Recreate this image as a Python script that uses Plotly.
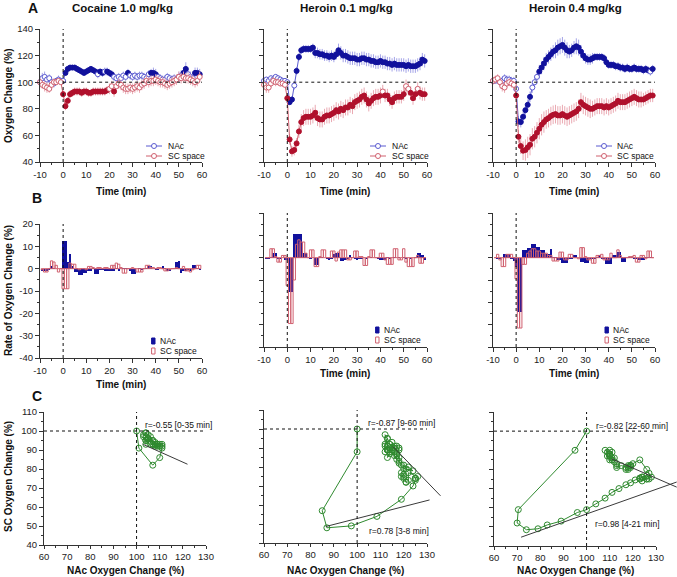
import plotly.graph_objects as go

W, H = 677, 577
FONT = "Liberation Sans"

# ---------------- data ----------------
minutes = list(range(-10, 60))          # sampling minutes, panel A
bar_minutes = list(range(-9, 60))       # rate bins, panel B

panel_titles = ["Cocaine 1.0 mg/kg", "Heroin 0.1 mg/kg", "Heroin 0.4 mg/kg"]
time_ticks = [-10, 0, 10, 20, 30, 40, 50, 60]
time_tick_labels = ["-10", "0", "10", "20", "30", "40", "50", "60"]
rate_ticks = [-40, -30, -20, -10, 0, 10, 20]
rate_tick_labels = ["-40", "-30", "-20", "-10", "0", "10", "20"]

coc_nac = [100, 103, 104, 102, 103, 100, 99, 101, 102, 101,
           101, 107, 110, 111, 111, 111, 110, 109, 108, 107,
           108, 109, 110, 109, 108, 106, 108, 107, 108, 108,
           107, 106, 104, 103, 104, 103, 105, 104, 107, 105,
           104, 105, 104, 105, 105, 104, 103, 106, 107, 107,
           106, 104, 103, 102, 102, 104, 103, 102, 103, 102,
           104, 105, 107, 110, 106, 104, 103, 107, 107, 106]
coc_sc = [100, 98, 97, 96, 95, 98, 100, 100, 101, 100,
          91, 82, 86, 91, 92, 93, 93, 93, 92, 93,
          93, 92, 92, 93, 93, 93, 93, 93, 93, 94,
          95, 97, 93, 97, 99, 98, 96, 95, 95, 96,
          95, 96, 97, 96, 98, 99, 101, 100, 101, 101,
          102, 101, 100, 100, 99, 98, 99, 100, 101, 102,
          104, 103, 104, 103, 103, 102, 101, 100, 101, 104]
h01_nac = [101, 102, 101, 103, 102, 104, 103, 102, 101, 101,
           100, 85, 87, 97.5, 108.5, 119, 124, 125, 125, 125,
           125, 126, 122, 122, 121, 121, 120, 120, 119, 120,
           119, 121, 124, 122, 120, 120, 119, 118, 118, 118,
           117, 117, 118, 118, 117, 117, 116, 116, 115, 115,
           116, 115, 115, 114, 114, 113, 114, 113, 113, 113,
           113, 112, 113, 112, 112, 112, 113, 114, 117, 116]
h01_sc = [98, 96, 96, 99, 101, 100, 100, 99, 99, 98,
          88, 57, 48, 49, 54, 63, 70, 73, 74, 74,
          74, 75, 77, 73, 72, 72, 74, 75, 75, 76,
          77, 79, 78, 80, 79, 81, 81, 83, 82, 85,
          86, 87, 89, 90, 87, 84, 86, 88, 89, 89,
          90, 93, 90, 90, 87, 85, 88, 89, 89, 89,
          91, 97, 95, 92, 88, 91, 95, 92, 91, 91]
h04_nac = [101, 101, 102, 100, 101, 103, 102, 102, 101, 101,
           95, 70.5, 70, 74, 79, 83, 89, 96, 100, 104,
           108, 111, 114, 117, 119, 121, 123, 124, 126, 127,
           128, 126, 124, 123, 124, 126, 127, 126, 123, 120,
           118, 117, 117, 118, 119, 119, 119, 119, 118, 115,
           113, 113, 113, 112, 112, 111, 111, 110, 111, 110,
           110, 111, 110, 110, 110, 109, 110, 109, 108, 110]
h04_sc = [101, 102, 103, 100, 97, 96, 99, 100, 99, 98,
          90, 59, 52, 48.5, 49, 51, 53, 57.5, 59, 62,
          65, 68, 70, 72, 73, 74.5, 75.5, 76, 75, 75,
          76, 75, 74, 75, 76, 77, 78, 80, 85, 83,
          82, 81, 80, 80, 81, 82, 82, 82, 81, 82,
          81, 82, 83, 84, 86, 85, 85, 85, 86, 87,
          88, 89, 88, 87, 87, 87, 88, 89, 90, 90]

# SEM
coc_nac_err = [3, 4, 4, 3, 3, 3, 3, 2, 3, 2,
               2, 2, 2, 2, 2, 2, 2, 2, 2, 2, 2, 2, 2, 2, 2, 3, 2, 3, 3, 3,
               3, 3, 3, 3, 3, 3, 3, 3, 3, 3, 3, 3, 3, 3, 3, 3, 3, 3, 3, 4,
               4, 3, 3, 3, 3, 3, 3, 3, 3, 3, 4, 4, 4, 5, 4, 4, 4, 4, 4, 4]
coc_sc_err = [3, 3, 4, 4, 3, 3, 3, 2, 2, 2,
              3, 3, 3, 3, 3, 3, 3, 3, 3, 3, 3, 3, 3, 3, 3, 3, 3, 3, 3, 3,
              4, 4, 4, 4, 4, 4, 4, 4, 4, 4, 4, 4, 4, 4, 4, 4, 4, 4, 4, 4,
              4, 4, 4, 4, 4, 4, 4, 4, 4, 4, 4, 4, 4, 4, 4, 4, 4, 4, 4, 4]
h01_nac_err = [2, 2, 2, 2, 2, 2, 2, 2, 2, 2,
               2, 2, 2, 3, 3, 3, 3, 3, 3, 3, 3, 3, 4, 4, 4, 4, 4, 4, 4, 4,
               4, 4, 5, 5, 5, 5, 5, 5, 5, 5, 5, 5, 5, 5, 5, 5, 5, 5, 5, 5,
               5, 5, 5, 5, 5, 5, 5, 5, 5, 5, 5, 5, 5, 5, 5, 5, 5, 5, 5, 5]
h01_sc_err = [3, 4, 4, 3, 3, 3, 2, 2, 2, 2,
              3, 4, 4, 4, 4, 5, 6, 6, 6, 6, 6, 6, 6, 6, 6, 6, 6, 6, 6, 6,
              6, 6, 6, 6, 6, 6, 6, 6, 6, 6, 6, 6, 6, 6, 6, 6, 6, 6, 6, 6,
              6, 5, 5, 5, 5, 5, 5, 5, 5, 5, 5, 5, 5, 5, 5, 5, 5, 5, 5, 5]
h04_nac_err = [2, 2, 3, 3, 3, 3, 3, 3, 3, 3,
               3, 4, 4, 4, 4, 4, 4, 4, 4, 4, 5, 5, 5, 5, 5, 5, 5, 6, 6, 6,
               6, 6, 6, 5, 5, 5, 6, 6, 5, 4, 4, 4, 4, 4, 3, 3, 3, 3, 3, 3,
               3, 3, 3, 3, 3, 3, 3, 3, 3, 3, 3, 3, 3, 3, 3, 3, 3, 3, 3, 3]
h04_sc_err = [3, 3, 3, 3, 4, 4, 3, 3, 3, 3,
              3, 5, 6, 7, 8, 8, 8, 8, 8, 8, 8, 8, 8, 7, 7, 7, 7, 7, 7, 7,
              7, 7, 7, 7, 7, 7, 7, 7, 7, 7, 7, 7, 7, 6, 6, 6, 6, 6, 6, 6,
              6, 6, 6, 6, 6, 6, 6, 6, 6, 6, 6, 6, 6, 6, 6, 5, 5, 5, 5, 5]

# significance vs baseline (1 = filled symbol)
coc_nac_sig = "00000000000" "11111111111111" "0" "11" "0" "111" "000000" "1" "000000000" "111" "00000000000" "11" "000" "111"
coc_sc_sig = "0000000000" "11111111111111111111" "00" "1" "0000000000000000000000000000000000000"
h01_nac_sig = "00000000000" "11" "0" "11111111111111111111111111111111111111111111111111111111"
h01_sc_sig = "0000000000" "11111111111111111111111111111111111111111" "0" "111111111" "00" "111" "0" "111"
h04_nac_sig = "00000000000" "111111" "000" "111111111111111111111111111111111111111111111111" "0" "1"
h04_sc_sig = "0000000000" "111111111111111111111111111111111111111111111111111111111111"

# rate of oxygen change (% per bin)
coc_nac_rate = [-1, -1, -1, -0.5, 1, 0.5, 0, 0, 0,
                12.5, 12.5, 3, 6.5, 1, -1.5, -1.5, -3, -3, -2,
                -2, -1, -1, 0.5, -2.5, -2.5, -0.5, -0.5, -1, -1,
                -1, -1, -1, 0.5, -1, 0, 0.5, 0.5, 0.5, -1,
                -2.5, -2.5, 0, 0.5, -0.5, 0, 0.5, 1, 1, 0,
                -0.5, -0.5, 0, 1, 0.5, -1, -1, 0, 0.5, 3,
                3.5, -2, -1, -1, -0.5, -1, 1.5, 1.5, 0.5, -0.5]
coc_sc_rate = [-0.5, -1.5, -1.5, 0, 3.5, 3, 1.5, -1.5, 0,
               -9, -9, -9, 2.5, 2, 2, 0, -0.5, 0, 0,
               -0.5, 1, 1, 0.5, 0, 0.5, 0.5, 0, 0.5, 0.5,
               0, 1.5, 1.5, 2.5, 2, 0.5, -2, -2, 0, 0,
               0.5, 0, -1.5, -1.5, -1.5, 0, 1.5, 1.5, 0.5, 0.5,
               0, 0.5, 0.5, 0, -1, -1, -0.5, 0, 0, 0.5,
               0, 0, 1, -1, -1, -1.5, -0.5, 0, 1.5, 1.5]
h01_nac_rate = [-0.5, -0.5, 0.5, 2, 2, -0.5, -0.5, 0, -1,
                -1, -15.5, -15.5, 10.6, 10.6, 10.6, 10.6, 2, 2, 0,
                -0.5, 0, -3.5, -3.5, 0.5, 0.5, 0, -0.5, -1, -0.5,
                1.5, 2, 2, -1.5, -1.5, -1, -0.5, 1, 0.5, -0.5,
                -1, -0.5, -0.5, 0, -0.5, 0, 0.5, 0, 0, -0.5,
                -1, -1, -1, 0.5, -0.5, 0, 0.5, 0, 0.5, 0,
                0.5, -0.5, 0, -0.5, 0, 0.5, 2, 2, 1, -1]
h01_sc_rate = [0, 0, 4, 4, 0.5, -2, -2, 1, 1,
               -12.5, -29.5, -29.5, -10, 6, 8, 7, 7, 2, 0,
               3.5, 3.5, -4, -4, 0.5, 3.5, 3.5, 0, 0, 3,
               3, -1.5, 2.5, 3.5, 3.5, 3.5, -1, -1, 0, 3,
               3, 0.5, 0.5, -3.5, -3.5, 0.5, 3.5, 3.5, 0, 0,
               2, 2, -1, -3, -3, -3, 4, 4, -1, -1,
               4, -2, -4, -4, -4, 0, 1, -2.5, -2.5, 0]
h04_nac_rate = [0, -0.5, -0.5, 0, 1.5, 1.5, 1.5, -0.5, -1.5,
                -4, -24.5, -24.5, 3.5, 3.5, 4.5, 4.5, 6, 6, 5,
                5, 3.5, 3.5, 1.5, 1.5, 4, 0.5, 0.5, -1, -1,
                -2.5, -2.5, -2.5, -0.5, -0.5, 1, 1, 0, -2, -2,
                -2.5, -2.5, -0.5, -0.5, -0.5, 0.5, 1, -0.5, -0.5, -3,
                -3, -3, 1, 1, 2.5, 2.5, -2, -2, 0, 0.5,
                0.5, -0.5, -0.5, -1, -1, -1, 0.5, 0.5, 0.5, 0]
h04_sc_rate = [0, 1.5, -1, -4, -4, 1.5, 1.5, 1.5, 0,
               -9.5, -31.5, -31.5, -3, -3, 2, 3, 4, 4, 3,
               3, 2, 2, 2, 1, 1, -1.5, -1.5, -1.5, 2.5,
               2.5, -1, -1, 1.5, 1.5, 0, 0, -0.5, 4.5, 4.5,
               0.5, -1, -1, -2.5, -2.5, 1, 1, 1.5, -1, -1,
               -1, 2, 0, 0, 3.5, 1, 0, 0, 0, 0.5,
               0.5, 1, -2, -2, 1, 1, -0.5, 3, 3, 0]

# panel C: trajectory window (last minute) and regression read-outs
baseline = 100
traj_last_minute = [35, 59, 59]
fit_labels = [["r=-0.55 [0-35 min]"],
              ["r=-0.87 [9-60 min]", "r=0.78 [3-8 min]"],
              ["r=-0.82 [22-60 min]", "r=0.98 [4-21 min]"]]
fit_slope = [[-0.545], [-1.27, 0.314], [-0.525, 0.4286]]
fit_intercept = [[149.0], [237.3, 21.5], [143.7, 13.87]]
fit_x_from = [[102.9], [115.4, 86.5], [110.9, 71.7]]
fit_x_to = [[122.0], [135.8, 131.1], [139.0, 139.0]]

# ---------------- styling ----------------
NAC = "#11119c"
NAC_OPEN = "#5b5bd0"
NAC_LINE = "#5b5bd0"
NAC_ERR = "#a5a5e8"
SC = "#b0102c"
SC_OPEN = "#d0606f"
SC_LINE = "#d0606f"
SC_ERR = "#eaaab3"
GREEN = "#2f8a2f"
AX = "#333333"


def fx(p):
    return p / W


def fy(p):
    return 1 - p / H


colA_x = [(40, 202), (264, 427), (493, 655)]
rowA_y = [(29, 162), (29, 162), (29, 162)]
rowB_y = [(224, 358), (213, 347), (213, 347)]
colC_x = [(44, 206), (264, 427), (494, 656)]
rowC_y = [(412, 545), (410, 543), (412, 546)]


def axis(domain_px, horizontal, rng, dtick, minor, labels, anchor, ticklen=4,
         tickvals=None, ticktext=None):
    if horizontal:
        dom = [fx(domain_px[0]), fx(domain_px[1])]
    else:
        dom = [fy(domain_px[1]), fy(domain_px[0])]
    d = dict(domain=dom, range=rng, dtick=dtick, tick0=rng[0], showline=True,
             linecolor=AX, linewidth=1, ticks="outside", ticklen=ticklen, tickwidth=1,
             tickcolor=AX, showgrid=False, zeroline=False, showticklabels=labels,
             tickfont=dict(size=9.5, color="#222", family=FONT), anchor=anchor,
             fixedrange=True, layer="above traces", automargin=False,
             minor=dict(dtick=minor, tick0=rng[0], ticks="outside", ticklen=2,
                        tickcolor=AX, showgrid=False))
    if tickvals is not None:
        d.update(tickmode="array", tickvals=tickvals, ticktext=ticktext)
    return d


fig = go.Figure()
layout_axes = {}
shapes = []
annotations = []


def ax_names(i):
    s = "" if i == 1 else str(i)
    return "x" + s, "y" + s, "xaxis" + s, "yaxis" + s


def ann(text, x, y, size, bold=False, xanchor="center", yanchor="middle", angle=0):
    annotations.append(dict(text=text, x=fx(x), y=fy(y), xref="paper", yref="paper",
                            showarrow=False, xanchor=xanchor, yanchor=yanchor,
                            textangle=angle,
                            font=dict(size=size, family=FONT, color="#111",
                                      weight="bold" if bold else "normal")))


# ---------- Row A ----------
seriesA = [(coc_nac, coc_sc, coc_nac_err, coc_sc_err, coc_nac_sig, coc_sc_sig),
           (h01_nac, h01_sc, h01_nac_err, h01_sc_err, h01_nac_sig, h01_sc_sig),
           (h04_nac, h04_sc, h04_nac_err, h04_sc_err, h04_nac_sig, h04_sc_sig)]
for k, (nac, sc, ne, se, nsig, ssig) in enumerate(seriesA):
    xa, ya, xk, yk = ax_names(k + 1)
    layout_axes[xk] = axis(colA_x[k], True, [-10, 60], 10, 5, True, ya,
                           tickvals=time_ticks, ticktext=time_tick_labels)
    layout_axes[yk] = axis(rowA_y[k], False, [40, 140], 20, 10, k == 0, xa)
    for vals, err, sig, col, opn, lc, ec in [(nac, ne, nsig, NAC, NAC_OPEN, NAC_LINE, NAC_ERR),
                                            (sc, se, ssig, SC, SC_OPEN, SC_LINE, SC_ERR)]:
        fig.add_trace(go.Scatter(
            x=minutes, y=vals, mode="lines+markers", xaxis=xa, yaxis=ya,
            line=dict(color=lc, width=1), cliponaxis=False, showlegend=False,
            marker=dict(symbol="circle", size=5,
                        color=[col if c == "1" else "white" for c in sig],
                        line=dict(width=1, color=[col if c == "1" else opn for c in sig])),
            error_y=dict(type="data", array=err, color=ec, thickness=1, width=0)))
    shapes.append(dict(type="line", xref=xa, yref=ya + " domain", x0=0, x1=0, y0=0, y1=1,
                       line=dict(color="#111", width=1, dash="dot")))
    shapes.append(dict(type="line", xref=xa, yref=ya, x0=0, x1=60, y0=100, y1=100,
                       line=dict(color="#111", width=1, dash="dot")))
    cx = (colA_x[k][0] + colA_x[k][1]) / 2
    ann(panel_titles[k], cx + 1, 8, 11.5, bold=True)
    ann("Time (min)", cx, 191, 10, bold=True)

# ---------- Row B ----------
seriesB = [(coc_nac_rate, coc_sc_rate), (h01_nac_rate, h01_sc_rate), (h04_nac_rate, h04_sc_rate)]
for k, (nr, sr) in enumerate(seriesB):
    xa, ya, xk, yk = ax_names(k + 4)
    layout_axes[xk] = axis(colA_x[k], True, [-10, 60], 10, 5, True, ya,
                           tickvals=time_ticks, ticktext=time_tick_labels)
    layout_axes[yk] = axis(rowB_y[k], False, [-40, 20], 10, 5, k == 0, xa,
                           tickvals=rate_ticks, ticktext=rate_tick_labels)
    fig.add_trace(go.Bar(x=bar_minutes, y=nr, width=1, xaxis=xa, yaxis=ya, showlegend=False,
                         marker=dict(color=NAC, line=dict(width=0))))
    fig.add_trace(go.Bar(x=bar_minutes, y=sr, width=1, xaxis=xa, yaxis=ya, showlegend=False,
                         marker=dict(color="rgba(255,255,255,0)", line=dict(width=1, color=SC_OPEN))))
    shapes.append(dict(type="line", xref=xa, yref=ya + " domain", x0=0, x1=0, y0=0, y1=1,
                       line=dict(color="#111", width=1, dash="dot")))
    cx = (colA_x[k][0] + colA_x[k][1]) / 2
    ann("Time (min)", cx, rowB_y[k][1] + 26, 10, bold=True)

# ---------- Row C ----------
nacs = [coc_nac, h01_nac, h04_nac]
scs = [coc_sc, h01_sc, h04_sc]
fit_axis_max = [140, 140, 139]
for k in range(3):
    xa, ya, xk, yk = ax_names(k + 7)
    layout_axes[xk] = axis(colC_x[k], True, [60, 130], 10, 5, True, ya, ticklen=3)
    layout_axes[yk] = axis(rowC_y[k], False, [40, 110], 10, 5, k == 0, xa)
    sel = [i for i, t in enumerate(minutes) if 0 <= t <= traj_last_minute[k]]
    tx = [baseline] + [nacs[k][i] for i in sel]
    ty = [baseline] + [scs[k][i] for i in sel]
    shapes.append(dict(type="line", xref=xa, yref=ya + " domain", x0=100, x1=100, y0=0, y1=1,
                       line=dict(color="#111", width=1, dash="dot")))
    shapes.append(dict(type="line", xref=xa + " domain", yref=ya, x0=0, x1=1, y0=100, y1=100,
                       line=dict(color="#111", width=1, dash="dot")))
    fig.add_trace(go.Scatter(x=tx, y=ty, mode="lines+markers", xaxis=xa, yaxis=ya,
                             showlegend=False, cliponaxis=False,
                             line=dict(color=GREEN, width=1),
                             marker=dict(symbol="circle-open", size=6, color=GREEN,
                                         line=dict(width=1))))
    # invisible companion axes (same scale) so regression lines may run past 130
    fa, fb, fk, fl = ax_names(k + 10)
    scale = (colC_x[k][1] - colC_x[k][0]) / 70.0
    right_px = colC_x[k][0] + (fit_axis_max[k] - 60) * scale
    layout_axes[fk] = dict(domain=[fx(colC_x[k][0]), min(fx(right_px), 1.0)],
                           range=[60, fit_axis_max[k]], visible=False, anchor=fb, fixedrange=True)
    layout_axes[fl] = dict(domain=[fy(rowC_y[k][1]), fy(rowC_y[k][0])], range=[40, 110],
                           visible=False, anchor=fa, fixedrange=True)
    for j in range(len(fit_slope[k])):
        xs = [fit_x_from[k][j], fit_x_to[k][j]]
        ys = [fit_slope[k][j] * v + fit_intercept[k][j] for v in xs]
        fig.add_trace(go.Scatter(x=xs, y=ys, mode="lines", xaxis=fa, yaxis=fb,
                                 showlegend=False, line=dict(color="#3a3a3a", width=1)))
    cx = (colC_x[k][0] + colC_x[k][1]) / 2
    ann("NAc Oxygen Change (%)", cx, 570.5, 10, bold=True)

# regression labels
r_pos = [[(143, 425)], [(366, 423), (367, 531)], [(594, 426), (593, 524)]]
for k in range(3):
    for j, lab in enumerate(fit_labels[k]):
        ann(lab, r_pos[k][j][0], r_pos[k][j][1], 8.5, xanchor="left")

# y titles and panel letters
ann("Oxygen Change (%)", 8, 96, 10, bold=True, angle=-90)
ann("Rate of Oxygen Change (%)", 8, 291, 10, bold=True, angle=-90)
ann("SC Oxygen Change (%)", 8, 477, 10, bold=True, angle=-90)
ann("A", 33, 8, 14, bold=True)
ann("B", 37, 198, 14, bold=True)
ann("C", 37, 396, 14, bold=True)

# ---------- hand-drawn compact legends ----------
legA = [(146, 162, 166), (370, 386, 390), (596, 612, 615)]
for (x0, x1, tx) in legA:
    for (yy, col, lc, name) in [(146, NAC_OPEN, NAC_LINE, "NAc"), (156, SC_OPEN, SC_LINE, "SC space")]:
        shapes.append(dict(type="line", xref="paper", yref="paper", x0=fx(x0), x1=fx(x1),
                           y0=fy(yy), y1=fy(yy), line=dict(color=lc, width=1)))
        c = (x0 + x1) / 2
        shapes.append(dict(type="circle", xref="paper", yref="paper", x0=fx(c - 2.5), x1=fx(c + 2.5),
                           y0=fy(yy + 2.5), y1=fy(yy - 2.5), fillcolor="white",
                           line=dict(color=col, width=1)))
        ann(name, tx, yy, 8.5, xanchor="left")

legB = [(153.3, 158, 341), (377.3, 382, 330), (606.7, 611, 330)]
for (cxp, tx, y0) in legB:
    for (yy, fill, lc, name) in [(y0, NAC, NAC, "NAc"), (y0 + 10, "rgba(255,255,255,0)", SC_OPEN, "SC space")]:
        shapes.append(dict(type="rect", xref="paper", yref="paper", x0=fx(cxp - 1.7), x1=fx(cxp + 1.7),
                           y0=fy(yy + 3), y1=fy(yy - 3), fillcolor=fill,
                           line=dict(color=lc, width=1)))
        ann(name, tx, yy, 8.5, xanchor="left")

fig.update_layout(width=W, height=H, margin=dict(l=0, r=0, t=0, b=0, pad=0),
                  paper_bgcolor="white", plot_bgcolor="rgba(0,0,0,0)", barmode="overlay",
                  bargap=0, shapes=shapes, annotations=annotations, hovermode=False,
                  font=dict(family=FONT, color="#222"), **layout_axes)
fig.write_html("out.html", config={"displayModeBar": False, "staticPlot": True},
               post_script="document.body.style.margin='0px';")
